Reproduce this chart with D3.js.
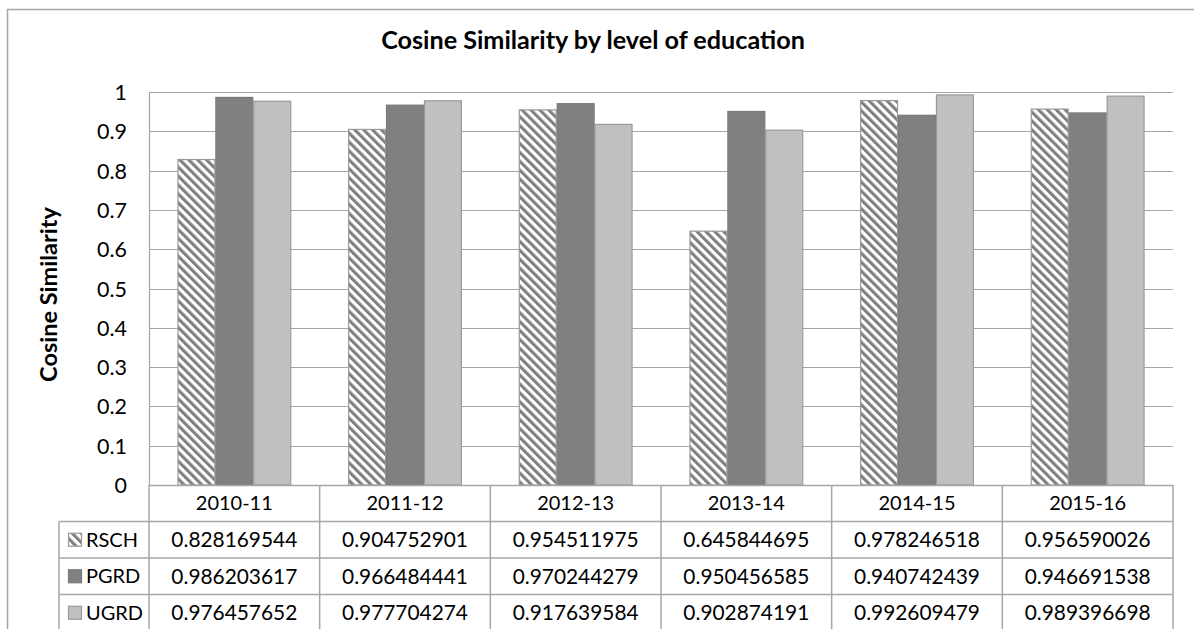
<!DOCTYPE html>
<html><head><meta charset="utf-8">
<script src="https://cdn.jsdelivr.net/npm/d3@7"></script>
<style>body{margin:0;background:#fff}svg{display:block}</style>
</head><body>
<svg id="c" width="1194" height="629"></svg>
<script>
const categories = ["2010-11","2011-12","2012-13","2013-14","2014-15","2015-16"];
const seriesNames = ["RSCH","PGRD","UGRD"];
const rsch = [0.828169544,0.904752901,0.954511975,0.645844695,0.978246518,0.956590026];
const pgrd = [0.986203617,0.966484441,0.970244279,0.950456585,0.940742439,0.946691538];
const ugrd = [0.976457652,0.977704274,0.917639584,0.902874191,0.992609479,0.989396698];
const yTicks = [0,0.1,0.2,0.3,0.4,0.5,0.6,0.7,0.8,0.9,1];
const tickLabels = ["0","0.1","0.2","0.3","0.4","0.5","0.6","0.7","0.8","0.9","1"];
const series = [rsch, pgrd, ugrd];

const svg = d3.select("#c");
const FONT = "Lato, 'Open Sans', sans-serif";
const gridC = "#a6a6a6";

// fit a font size so a sample string reaches a target width
function fitSize(sample, target, weight) {
  const t = svg.append("text").attr("font-family",FONT).attr("font-size",100)
    .attr("font-weight",weight||"normal").text(sample);
  const w = t.node().getComputedTextLength();
  t.remove();
  return 100*target/w;
}
const fsTick = fitSize("0.9", 30);
const fsVal = fitSize("0.828169544", 126);
const fsHead = fitSize("2010-11", 77);
const fsLeg = fitSize("UGRD", 57);
const fsTitle = fitSize("Cosine Similarity by level of education", 424, "bold");
const fsYlab = fitSize("Cosine Similarity", 175, "bold");

const pLeft = 149, pRight = 1173, pTop = 92, pBottom = 485;
const rowH = 36.5;

// pattern
const defs = svg.append("defs");
const pat = defs.append("pattern").attr("id","hatch").attr("patternUnits","userSpaceOnUse")
  .attr("width",6.3).attr("height",10).attr("patternTransform","rotate(-45)");
pat.append("rect").attr("width",6.3).attr("height",10).attr("fill","#fff");
pat.append("rect").attr("width",3.1).attr("height",10).attr("fill","#7f7f7f");

const fills = ["url(#hatch)","#808080","#c0c0c0"];
const strokes = ["#9a9a9a","#7a7a7a","#9a9a9a"];

// outer border
svg.append("path").attr("d","M7.5,640 V9.5 H1200").attr("fill","none").attr("stroke","#a6a6a6").attr("stroke-width",1.5);

const x0 = d3.scaleBand().domain(categories).range([pLeft,pRight]).paddingInner(0).paddingOuter(0);
const bw = x0.bandwidth()/4.5;
const x1 = d3.scaleBand().domain(seriesNames).range([0.75*bw, 3.75*bw]).padding(0);
const y = d3.scaleLinear().domain([0,1]).range([pBottom,pTop]);

// gridlines
svg.append("g").selectAll("line").data(yTicks.slice(1)).join("line")
  .attr("x1",pLeft).attr("x2",pRight).attr("y1",d=>Math.round(y(d))+0.5).attr("y2",d=>Math.round(y(d))+0.5)
  .attr("stroke",gridC).attr("stroke-width",1.2);

// y axis
const yAxis = d3.axisLeft(y).tickValues(yTicks).tickFormat((d,i)=>tickLabels[i]).tickSize(0).tickPadding(22);
const ga = svg.append("g").attr("transform",`translate(${pLeft},0)`).call(yAxis);
ga.select(".domain").remove();
ga.selectAll("text").attr("font-family",FONT).attr("font-size",fsTick).attr("fill","#000").attr("dy","0.35em");
svg.append("line").attr("x1",pLeft+0.5).attr("x2",pLeft+0.5).attr("y1",pTop).attr("y2",pBottom).attr("stroke",gridC).attr("stroke-width",1.2);

// bars
series.forEach((vals,si)=>{
  svg.append("g").selectAll("rect").data(vals).join("rect")
    .attr("x",(d,i)=>x0(categories[i])+x1(seriesNames[si])+0.5)
    .attr("width",x1.bandwidth()-1)
    .attr("y",d=>y(d))
    .attr("height",d=>pBottom-y(d))
    .attr("fill",fills[si]).attr("stroke",strokes[si]).attr("stroke-width",1.2);
});

// table
const tg = svg.append("g");
const lineC = "#a6a6a6";
const tableLeft = 59;
const tBottom = 650;
tg.append("line").attr("x1",pLeft).attr("x2",pRight).attr("y1",pBottom+0.5).attr("y2",pBottom+0.5).attr("stroke",lineC).attr("stroke-width",1.5);
[1,2,3].forEach(r=>{
  tg.append("line").attr("x1",tableLeft).attr("x2",pRight).attr("y1",pBottom+r*rowH).attr("y2",pBottom+r*rowH).attr("stroke",lineC).attr("stroke-width",1.5);
});
categories.concat(["_end"]).forEach((c,i)=>{
  const xx = pLeft + i*x0.bandwidth();
  tg.append("line").attr("x1",xx).attr("x2",xx).attr("y1",pBottom).attr("y2",tBottom).attr("stroke",lineC).attr("stroke-width",1.5);
});
tg.append("line").attr("x1",tableLeft).attr("x2",tableLeft).attr("y1",pBottom+rowH).attr("y2",tBottom).attr("stroke",lineC).attr("stroke-width",1.5);

tg.selectAll("text.h").data(categories).join("text").attr("class","h")
  .attr("x",d=>x0(d)+x0.bandwidth()/2).attr("y",pBottom+rowH/2).attr("dy","0.35em")
  .attr("text-anchor","middle").attr("font-family",FONT).attr("font-size",fsHead).text(d=>d);

series.forEach((vals,si)=>{
  const cy = pBottom+(si+1)*rowH+rowH/2;
  tg.append("g").selectAll("text").data(vals).join("text")
    .attr("x",(d,i)=>x0(categories[i])+x0.bandwidth()/2).attr("y",cy).attr("dy","0.35em")
    .attr("text-anchor","middle").attr("font-family",FONT).attr("font-size",fsVal)
    .text(d=>d.toFixed(9));
  tg.append("rect").attr("x",68.5).attr("y",cy-6.5).attr("width",13).attr("height",13)
    .attr("fill",fills[si]).attr("stroke",strokes[si]).attr("stroke-width",1.2);
  tg.append("text").attr("x",86).attr("y",cy).attr("dy","0.35em").attr("font-family",FONT)
    .attr("font-size",fsLeg).text(seriesNames[si]);
});

svg.append("text").attr("x",593).attr("y",49).attr("text-anchor","middle")
  .attr("font-family",FONT).attr("font-weight","bold").attr("font-size",fsTitle).text("Cosine Similarity by level of education");
svg.append("text").attr("transform","translate(57,294.5) rotate(-90)").attr("text-anchor","middle")
  .attr("font-family",FONT).attr("font-weight","bold").attr("font-size",fsYlab).text("Cosine Similarity");
</script>
</body></html>
